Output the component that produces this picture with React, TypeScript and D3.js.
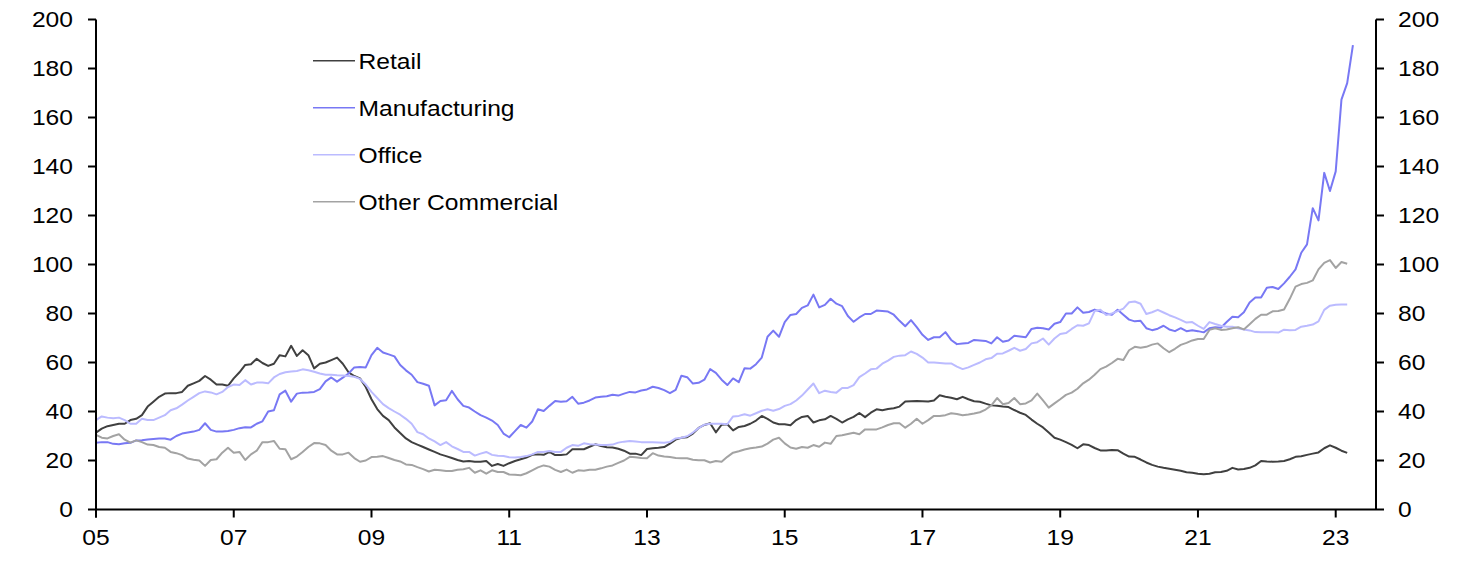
import React from "react";
import * as d3 from "d3";

// Monthly values, Jan 2005 onward (12 per row = one year)
const retail: number[] = [
  31.4, 33, 34, 34.5, 35, 35, 36.5, 37, 38.5, 42, 44, 46,
  47.3, 47.5, 47.5, 48, 50.5, 51.5, 52.5, 54.5, 53, 51, 51, 50.5,
  53.5, 56, 59, 59.3, 61.5, 59.8, 58.6, 59.5, 63, 62.5, 66.8, 62.7,
  65, 63, 57.6, 59.5, 60, 61, 62, 59.5, 56, 54.5, 53.5, 50,
  45, 41, 38.2, 36.5, 33.5, 31.2, 29, 27.5, 26.5, 25.5, 24.5, 23.5,
  22.5, 21.8, 21, 20.2, 19.6, 19.8, 19.5, 19.5, 19.8, 17.8, 18.6, 17.8,
  18.9, 19.8, 20.5, 21.2, 22.3, 22.5, 22.3, 23.5, 22.2, 22.2, 22.5, 24.6,
  24.6, 24.6, 25.6, 26.6, 25.9, 25.4, 25.3, 24.8, 24, 22.8, 22.8, 22.2,
  24.7, 25, 25.2, 25.5, 26.9, 28.5, 29.3, 29.5, 31, 33.3, 34.5, 35.2,
  31.5, 34.6, 34.8, 32.3, 33.7, 34.1, 35, 36.3, 38.2, 37, 35.5, 34.8,
  34.8, 34.4, 36.5, 37.8, 38.2, 35.5, 36.4, 36.8, 38.2, 37, 35.5, 36.8,
  37.8, 39.4, 37.7, 39.5, 40.9, 40.5, 41, 41.3, 42, 44.1, 44.2, 44.3,
  44.2, 44.1, 44.5, 46.6, 46, 45.6, 45, 46, 45, 44.2, 44, 43.2,
  42.5, 42.3, 42, 41.8, 40.6, 39.5, 38.6, 36.7, 35, 33.5, 31.4, 29.3,
  28.5, 27.5, 26.4, 25, 26.6, 26.3, 25.1, 24.1, 24.1, 24.3, 24.2, 22.8,
  21.6, 21.5, 20.4, 19.2, 18.2, 17.5, 17, 16.6, 16.2, 15.8, 15.2, 15,
  14.6, 14.4, 14.6, 15.2, 15.3, 15.8, 17, 16.3, 16.5, 17, 18, 19.8,
  19.6, 19.5, 19.6, 19.8, 20.5, 21.5, 21.7, 22.3, 22.8, 23.3, 25, 26.2,
  25.2, 24, 23.1,
];

const manufacturing: number[] = [
  27.2, 27.5, 27.5, 26.8, 26.6, 27, 27.2, 28.2, 28.3, 28.6, 28.8, 29,
  29, 28.5, 30, 31, 31.4, 31.8, 32.5, 35.2, 32.5, 31.8, 31.8, 32,
  32.5, 33.2, 33.6, 33.5, 35, 36, 40, 40.5, 47, 48.5, 44, 47.3,
  47.7, 47.8, 48, 49.1, 52.3, 53.9, 52.2, 53.8, 55.5, 58, 58.2, 58,
  63, 66, 64.1, 63.3, 62.5, 59, 56.8, 55, 52, 51.3, 50.5, 42.5,
  44.3, 44.6, 48.4, 45, 42.3, 41.6, 40, 38.5, 37.5, 36.3, 34.5, 31,
  29.5, 32, 34.5, 33.4, 35.9, 40.9, 40.2, 42.3, 44.3, 44, 44.2, 46,
  43.2, 43.6, 44.5, 45.7, 46, 46.2, 46.8, 46.5, 47.3, 48, 47.8, 48.6,
  49, 50.1, 49.6, 48.7, 47.5, 48.8, 54.6, 54, 51.4, 51.7, 53, 57.3,
  55.8, 53, 50.8, 53.5, 52, 57.7, 57.5, 59.3, 62, 70.5, 73, 70.5,
  76.5, 79.4, 79.8, 82.3, 83.3, 87.7, 82.5, 83.5, 86, 84, 83, 79,
  76.6, 78.4, 79.8, 79.8, 81.2, 81, 80.8, 79.5, 77, 74.8, 77.3, 74.4,
  71.3, 69.2, 70.3, 70.3, 72.4, 69.2, 67.5, 67.8, 68, 69.2, 69, 68.8,
  67.8, 70.3, 68.5, 69, 70.9, 70.6, 70.3, 73.7, 74.2, 74, 73.5, 75.8,
  76.5, 80, 80, 82.5, 80.3, 80.6, 81.6, 80.8, 80, 79.5, 81.5, 79.5,
  77.5, 76.8, 77, 74, 73.2, 73.8, 75, 73.5, 72.8, 74, 72.8, 73.2,
  72.8, 72.3, 74, 74.4, 74.2, 76.5, 78.7, 78.5, 80.5, 84.5, 86.5, 86.5,
  90.5, 90.8, 90, 92.3, 95, 98, 104.8, 108.2, 123, 118, 137.4, 130,
  138, 167.3, 174, 189.5,
];

const office: number[] = [
  36.5, 38, 37.5, 37.2, 37.5, 36.5, 35, 35, 37, 36.5, 36.5, 37.5,
  38.5, 40.5, 41.3, 42.8, 44.5, 46, 47.5, 48.2, 47.8, 47, 48, 50,
  51, 50.8, 52.8, 51, 51.8, 51.8, 51.5, 53.9, 55.3, 56, 56.3, 56.5,
  57.2, 56.8, 56.2, 55.5, 55, 55, 54.8, 54.7, 54.5, 54.2, 53.3, 51,
  48, 45.5, 43, 41.4, 40, 38.7, 37, 35, 31.6, 30.7, 29, 27.8,
  26.3, 27.5, 25.8, 24.7, 23.5, 23.5, 22, 22.8, 23.5, 22.3, 21.9, 21.8,
  21.3, 21.2, 21.4, 21.8, 22.5, 23.5, 23.5, 23.9, 23.5, 23.5, 25.2, 26.3,
  26, 27, 26.6, 26.5, 26.3, 26.3, 26.5, 27.3, 27.7, 28, 27.8, 27.5,
  27.5, 27.4, 27.3, 27.2, 27.6, 29, 29.3, 29.9, 31.4, 33.2, 34.6, 35,
  35, 35, 34.8, 38, 38.2, 38.9, 38.3, 39.3, 40.3, 40.9, 40.3, 41,
  42.3, 43, 44.5, 46.5, 49, 51.4, 47.5, 48.5, 48, 47.7, 49.6, 49.6,
  50.8, 54, 55.5, 57.2, 57.5, 59.5, 60.8, 62.3, 62.8, 63, 64.5, 63.5,
  62, 60, 60, 59.8, 59.6, 59.6, 58.3, 57.3, 58, 59, 60, 61.3,
  61.8, 63.6, 63.7, 64.8, 66, 64.8, 65.5, 67.8, 68.3, 69.8, 67.3, 69.8,
  71.6, 72, 73.7, 75.2, 75, 76, 81, 81.5, 79.4, 80, 81, 82,
  84.6, 84.9, 84, 79.8, 80.5, 81.5, 80.4, 79.3, 78.4, 77.4, 76.3, 76.5,
  75, 73.7, 76.5, 75.7, 75, 74.6, 74.6, 74, 73.5, 73.1, 72.4, 72.3,
  72.3, 72.3, 72.2, 73.4, 73.2, 73.3, 74.6, 75, 75.5, 76.8, 81.5, 83.2,
  83.6, 83.7, 83.7,
];

const otherCommercial: number[] = [
  30.5, 29.3, 29, 30, 30.7, 28.5, 27.3, 28.2, 27.5, 26.5, 26.3, 25.5,
  25.2, 23.5, 23, 22.2, 20.8, 20.3, 20, 17.8, 20.2, 20.5, 23.2, 25.2,
  23.2, 23.5, 20.2, 22.5, 24, 27.5, 27.5, 28, 24.8, 24.6, 20.5, 21.6,
  23.5, 25.5, 27.1, 27, 26.3, 24, 22.5, 22.5, 23.2, 21, 19.5, 20,
  21.4, 21.5, 21.8, 21, 20.2, 19.6, 18.4, 18.2, 17.3, 16.5, 15.5, 16.2,
  16, 15.7, 15.7, 16.2, 16.4, 17, 15, 16, 14.6, 16, 15.3, 15.3,
  14.3, 14.2, 14, 14.8, 16, 17.2, 18, 17.5, 16.2, 15.3, 16.3, 15,
  16, 15.8, 16.2, 16.2, 16.8, 17.5, 18, 19, 20, 21.5, 21.3, 21,
  20.9, 23, 22, 21.6, 21.4, 21, 20.9, 20.9, 20.3, 20.1, 20.1, 19.2,
  19.8, 19.5, 21.5, 23.2, 23.8, 24.5, 25, 25.3, 25.7, 26.9, 28.5, 29.3,
  27, 25.3, 24.8, 25.5, 25.2, 26.3, 25.6, 27.3, 26.8, 30, 30.3, 30.8,
  31.3, 30.7, 32.7, 32.7, 32.7, 33.5, 34.5, 35.2, 35.2, 33.4, 35, 37,
  35, 36.5, 38.2, 38.2, 38.5, 39.3, 39, 38.5, 38.8, 39.2, 39.7, 40.8,
  42.5, 45.5, 43, 43.5, 45.5, 43, 43.3, 44.5, 47.3, 44.5, 41.6, 43.3,
  45, 46.8, 47.7, 49.3, 51.5, 53, 55, 57.3, 58.3, 59.8, 61.5, 61,
  65, 66.4, 66, 66.4, 67.3, 67.8, 65.8, 64.2, 65.6, 67.2, 68, 69,
  69.6, 69.6, 73.3, 74, 73.3, 73.5, 74, 74.4, 73.5, 75.6, 77.8, 79.5,
  79.5, 80.9, 81, 81.6, 86, 91, 92, 92.5, 93.5, 98, 100.7, 101.8,
  98.6, 101, 100.3,
];

const seriesNames: string[] = ["Retail", "Manufacturing", "Office", "Other Commercial"];
const seriesColors: string[] = ["#404040", "#7878f4", "#bbbbff", "#a3a3a3"];
const seriesData: number[][] = [retail, manufacturing, office, otherCommercial];

const startYear = 2005;
const endYear = 2023.585;
const yTicks: number[] = [0, 20, 40, 60, 80, 100, 120, 140, 160, 180, 200];
const xTickYears: number[] = [2005, 2007, 2009, 2011, 2013, 2015, 2017, 2019, 2021, 2023];
const xTickLabels: string[] = ["05", "07", "09", "11", "13", "15", "17", "19", "21", "23"];

const W = 1468;
const H = 562;
const left = 96;
const right = 1376;
const top = 19.5;
const bottom = 509.5;
const FONT = "'Liberation Sans', Arial, Helvetica, sans-serif";
const FS = 22;
const SX = 1.12;

function Label({ x, y, anchor, children }: { x: number; y: number; anchor: string; children: React.ReactNode }) {
  return (
    <text
      transform={`translate(${x},${y}) scale(${SX},1)`}
      textAnchor={anchor}
      fontFamily={FONT}
      fontSize={FS}
      fill="#000"
    >
      {children}
    </text>
  );
}

export default function App() {
  const x = d3.scaleLinear().domain([startYear, endYear]).range([left, right]);
  const y = d3.scaleLinear().domain([0, 200]).range([bottom, top]);
  const line = d3
    .line<number>()
    .x((_, i) => x(startYear + i / 12))
    .y((d) => y(d));

  return (
    <div style={{ position: "absolute", left: 0, top: 0 }}>
      <svg width={W} height={H} style={{ display: "block", background: "#fff" }}>
        {/* series */}
        {seriesData.map((s, k) => (
          <path
            key={seriesNames[k]}
            d={line(s) || ""}
            fill="none"
            stroke={seriesColors[k]}
            strokeWidth={2}
            strokeLinejoin="round"
          />
        ))}

        {/* axes */}
        <line x1={left} x2={left} y1={top} y2={bottom + 8} stroke="#000" strokeWidth={2} />
        <line x1={right} x2={right} y1={top} y2={bottom} stroke="#000" strokeWidth={2} />
        <line x1={left} x2={right} y1={bottom} y2={bottom} stroke="#000" strokeWidth={2} />

        {yTicks.map((t) => (
          <g key={"y" + t}>
            <line x1={left - 8} x2={left} y1={y(t)} y2={y(t)} stroke="#000" strokeWidth={2} />
            <line x1={right} x2={right + 8} y1={y(t)} y2={y(t)} stroke="#000" strokeWidth={2} />
            <Label x={73} y={y(t) + 7.8} anchor="end">{String(t)}</Label>
            <Label x={1398} y={y(t) + 7.8} anchor="start">{String(t)}</Label>
          </g>
        ))}

        {xTickYears.map((yr, i) => (
          <g key={"x" + yr}>
            <line x1={x(yr)} x2={x(yr)} y1={bottom} y2={bottom + 8} stroke="#000" strokeWidth={2} />
            <Label x={x(yr)} y={545} anchor="middle">{xTickLabels[i]}</Label>
          </g>
        ))}

        {/* legend */}
        {seriesNames.map((n, k) => {
          const ly = 60.7 + k * 47;
          return (
            <g key={"lg" + n}>
              <line x1={313} x2={355} y1={ly} y2={ly} stroke={seriesColors[k]} strokeWidth={1.6} />
              <Label x={358.5} y={ly + 7.8} anchor="start">{n}</Label>
            </g>
          );
        })}
      </svg>
    </div>
  );
}
